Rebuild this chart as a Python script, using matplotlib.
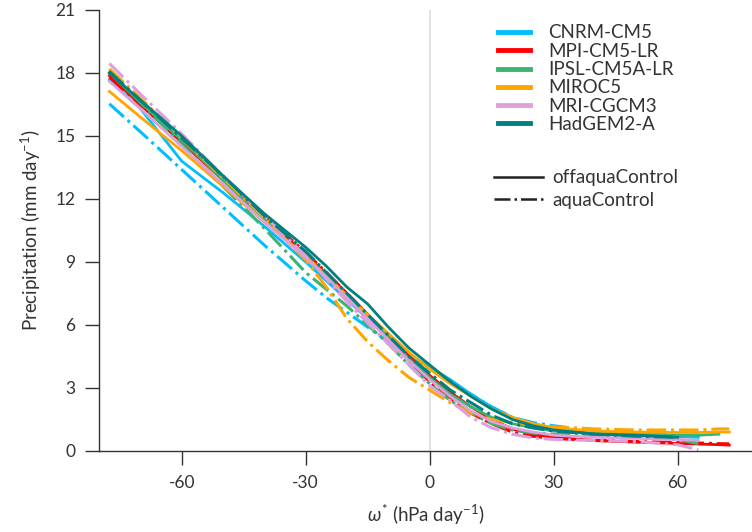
import matplotlib
matplotlib.use("Agg")
import matplotlib.pyplot as plt
from matplotlib.lines import Line2D

plt.rcParams['font.family'] = ['Lato', 'DejaVu Sans']
plt.rcParams['mathtext.fontset'] = 'custom'
plt.rcParams['mathtext.rm'] = 'Lato'
plt.rcParams['mathtext.it'] = 'Lato:italic'
plt.rcParams['axes.unicode_minus'] = False

# omega* bins (hPa/day)
omega = [-77.5, -70, -60, -50, -40, -30, -25, -20, -15, -10, -5, 0,
         5, 10, 15, 20, 25, 30, 40, 50, 60, 65, 70, 72.5]

models = ['CNRM-CM5', 'MPI-CM5-LR', 'IPSL-CM5A-LR', 'MIROC5', 'MRI-CGCM3', 'HadGEM2-A']
colors = ['#00BFFF', '#FF0000', '#3CB371', '#FFA500', '#DDA0DD', '#008080']

# precipitation (mm/day), offaquaControl
cnrm_off = [17.67, 16.3, 13.8, 12.3, 10.7, 9.0, 8.1, 7.2, 6.3, 5.4, 4.6, 4.0,
            3.4, 2.7, 2.1, 1.6, 1.3, 1.1, 0.9, 0.8, 0.68, 0.65]
mpi_off = [17.87, 16.5, 14.7, 12.9, 11.1, 9.35, 8.4, 7.5, 6.5, 5.5, 4.5, 3.6,
           2.8, 2.1, 1.5, 1.05, 0.8, 0.65, 0.5, 0.42, 0.36, 0.33, 0.3, 0.28]
ipsl_off = [18.0, 16.6, 14.8, 12.9, 11.0, 9.2, 8.25, 7.3, 6.4, 5.4, 4.4, 3.5,
            2.7, 2.1, 1.6, 1.3, 1.1, 0.95, 0.85, 0.8, 0.75, 0.75, 0.8]
miroc_off = [17.12, 15.9, 14.3, 12.6, 10.9, 9.3, 8.35, 7.4, 6.5, 5.6, 4.7, 3.9,
             3.2, 2.6, 2.0, 1.6, 1.3, 1.1, 0.95, 0.9, 0.88, 0.88, 0.9, 0.9]
mri_off = [17.6, 16.3, 14.5, 12.7, 10.9, 9.2, 8.3, 7.3, 6.3, 5.3, 4.3, 3.4,
           2.6, 1.9, 1.4, 1.1, 0.9, 0.75, 0.65, 0.6, 0.55, 0.5]
had_off = [18.0, 16.7, 15.0, 13.1, 11.3, 9.7, 8.8, 7.8, 7.0, 5.9, 4.9, 4.1,
           3.3, 2.6, 2.0, 1.5, 1.2, 1.0, 0.8, 0.75, 0.65]

# precipitation (mm/day), aquaControl
cnrm_aqua = [16.53, 15.2, 13.4, 11.6, 9.8, 8.1, 7.3, 6.6, 5.9, 5.2, 4.6, 3.9,
             3.3, 2.7, 2.1, 1.6, 1.35, 1.2, 0.95, 0.85, 0.75, 0.7]
mpi_aqua = [17.8, 16.5, 14.75, 13.0, 11.2, 9.45, 8.5, 7.5, 6.5, 5.4, 4.3, 3.3,
            2.5, 1.8, 1.3, 0.9, 0.7, 0.6, 0.5, 0.45, 0.4, 0.38, 0.35, 0.34]
ipsl_aqua = [18.14, 16.6, 14.6, 12.6, 10.6, 8.5, 7.7, 6.9, 6.0, 5.1, 4.1, 3.2,
             2.4, 1.8, 1.3, 1.0, 0.85, 0.8, 0.75, 0.7, 0.55, 0.35]
miroc_aqua = [18.2, 16.8, 14.9, 13.0, 11.1, 9.1, 7.8, 6.3, 5.2, 4.3, 3.5, 2.9,
              2.3, 1.8, 1.5, 1.35, 1.25, 1.15, 1.05, 1.0, 1.0, 1.0, 1.05, 1.05]
mri_aqua = [18.45, 17.0, 15.1, 13.1, 11.2, 9.3, 8.2, 7.1, 6.1, 5.1, 4.1, 3.1,
            2.4, 1.6, 1.1, 0.8, 0.62, 0.55, 0.5, 0.45, 0.3, 0.05]
had_aqua = [18.07, 16.7, 14.9, 13.1, 11.2, 9.5, 8.5, 7.5, 6.5, 5.5, 4.5, 3.7,
            2.9, 2.3, 1.7, 1.3, 1.1, 0.95, 0.8, 0.7, 0.65]

off_data = [cnrm_off, mpi_off, ipsl_off, miroc_off, mri_off, had_off]
aqua_data = [cnrm_aqua, mpi_aqua, ipsl_aqua, miroc_aqua, mri_aqua, had_aqua]

txt = '#333333'

fig = plt.figure(figsize=(7.52, 5.32), dpi=100)
ax = fig.add_axes([0.1317, 0.1523, 0.8683, 0.829])

ax.axvline(0, color='#dddddd', lw=1.2, zorder=0)

for i in range(len(models)):
    y = off_data[i]
    ax.plot(omega[:len(y)], y, color=colors[i], lw=2.0, ls='-')
    y = aqua_data[i]
    ax.plot(omega[:len(y)], y, color=colors[i], lw=2.2, ls='-.')

ax.set_xlim(-80, 78)
ax.set_ylim(0, 21)
ax.set_xticks([-60, -30, 0, 30, 60])
ax.set_yticks(range(0, 22, 3))

for s in ['top', 'right']:
    ax.spines[s].set_visible(False)
for s in ['left', 'bottom']:
    ax.spines[s].set_color(txt)
    ax.spines[s].set_linewidth(1.0)
ax.tick_params(direction='out', length=10, width=1.0, color=txt,
               labelcolor=txt, labelsize=12.5, pad=7)

ax.set_xlabel(r'$\omega^{*}$ (hPa day$^{-1}$)', fontsize=13.5, color=txt, labelpad=9)
ax.set_ylabel(r'Precipitation (mm day$^{-1}$)', fontsize=13.5, color=txt, labelpad=9)

h1 = [Line2D([], [], color=c, lw=3.5) for c in colors]
leg1 = fig.legend(h1, models, loc='upper left', bbox_to_anchor=(0.662, 0.954),
                  frameon=False, fontsize=13.5, handlelength=1.7, handletextpad=1.0,
                  labelspacing=0.07, borderpad=0, borderaxespad=0, labelcolor=txt)

h2 = [Line2D([], [], color='#222222', lw=1.8, ls='-'),
      Line2D([], [], color='#222222', lw=1.8, ls='-.')]
leg2 = fig.legend(h2, ['offaquaControl', 'aquaControl'], loc='upper left',
                  bbox_to_anchor=(0.657, 0.682), frameon=False, fontsize=13.5,
                  handlelength=2.6, handletextpad=0.5, labelspacing=0.3,
                  borderpad=0, borderaxespad=0, labelcolor=txt)

plt.savefig('out.png', dpi=100)
